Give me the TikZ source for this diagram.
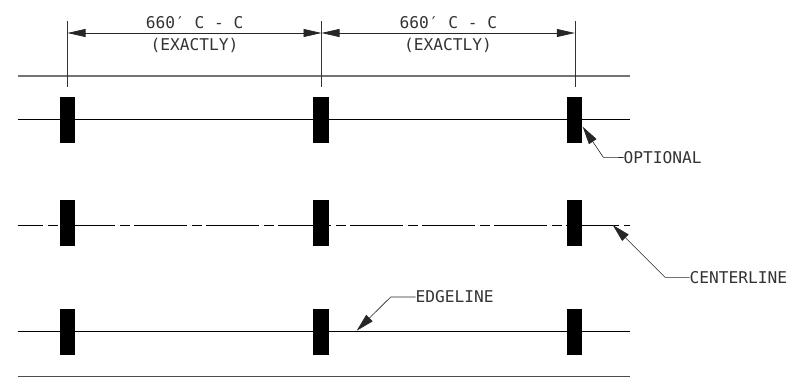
\documentclass[tikz,border=0pt]{standalone}
\usepackage{fontspec}
\setmainfont{DejaVu Sans Mono}
\usetikzlibrary{arrows.meta}
\tikzset{
  x=1pt,y=-1pt,
  bar/.style={fill=black,draw=none,minimum width=15.5pt,minimum height=46.5pt,inner sep=0pt,outer sep=0pt},
  edgerule/.style={draw=black!55,line width=1.2pt},
  lowrule/.style={draw=black!70,line width=0.8pt},
  rail/.style={draw=black,line width=0.9pt},
  cline/.style={draw=black,line width=0.9pt,dash pattern=on 52.7pt off 5pt on 10pt off 4.3pt,dash phase=27.2pt},
  extline/.style={draw=black!80,line width=0.6pt},
  dimline/.style={draw=black!85,line width=0.7pt,{Triangle[length=18pt,width=8pt]}-{Triangle[length=18pt,width=8pt]}},
  leader/.style={draw=black!85,line width=0.6pt,{Triangle[length=18pt,width=9pt]}-},
  lbl/.style={font=\fontsize{16.2}{16}\selectfont,inner sep=0pt,outer sep=0pt,text=black!80},
}
\begin{document}
\begin{tikzpicture}
\useasboundingbox (0,0) rectangle (787,377);
\fill[white] (0,0) rectangle (787,377);
% road rules
\coordinate (tl) at (17.5,76); \coordinate (tr) at (629.5,76);
\coordinate (bl) at (17.5,376.4); \coordinate (br) at (629.5,376.4);
\draw[edgerule] (tl) -- (tr);
\draw[lowrule] (bl) -- (br);
% rails
\coordinate (r1l) at (17.5,119.5); \coordinate (r1r) at (629.5,119.5);
\coordinate (r2l) at (17.5,225); \coordinate (r2r) at (629.5,225);
\coordinate (r3l) at (17.5,331.5); \coordinate (r3r) at (629.5,331.5);
\draw[rail] (r1l) -- (r1r);
\draw[cline] (r2l) -- (r2r);
\draw[rail] (r3l) -- (r3r);
% bars
\foreach \n/\xx in {a/67.7,b/321.2,c/574.7}{
  \node[bar] (\n1) at (\xx,120.2) {};
  \node[bar] (\n2) at (\xx,223.2) {};
  \node[bar] (\n3) at (\xx,331.8) {};
}
% extension lines
\foreach \n/\xx in {a/67.5,b/321.5,c/574.8}{
  \coordinate (\n t) at (\xx,21.5);
  \coordinate (\n m) at (\xx,33);
  \coordinate (\n f) at (\xx,87);
  \draw[extline] (\n t) -- (\n f);
}
\draw[dimline] (am) -- (bm);
\draw[dimline] (bm) -- (cm);
\node[lbl] (d1) at (194.7,22.5) {660′ C - C};
\node[lbl] (e1) at (194.4,45) {(EXACTLY)};
\node[lbl] (d2) at (448.3,22.5) {660′ C - C};
\node[lbl] (e2) at (448,45) {(EXACTLY)};
% leaders
\node[lbl,anchor=west] (opt) at (623.5,157.5) {OPTIONAL};
\coordinate (optt) at (582.7,126.7); \coordinate (opte) at (603.3,157.3);
\draw[leader] (optt) -- (opte) -- (opt.west);
\node[lbl,anchor=west] (cen) at (689.5,277.3) {CENTERLINE};
\coordinate (cent) at (612.7,225); \coordinate (cene) at (665,277.3);
\draw[leader] (cent) -- (cene) -- (cen.west);
\node[lbl,anchor=west] (edg) at (415.5,297) {EDGELINE};
\coordinate (edgt) at (356.7,330.7); \coordinate (edge) at (390.7,297);
\draw[leader] (edgt) -- (edge) -- (edg.west);
\end{tikzpicture}
\end{document}
